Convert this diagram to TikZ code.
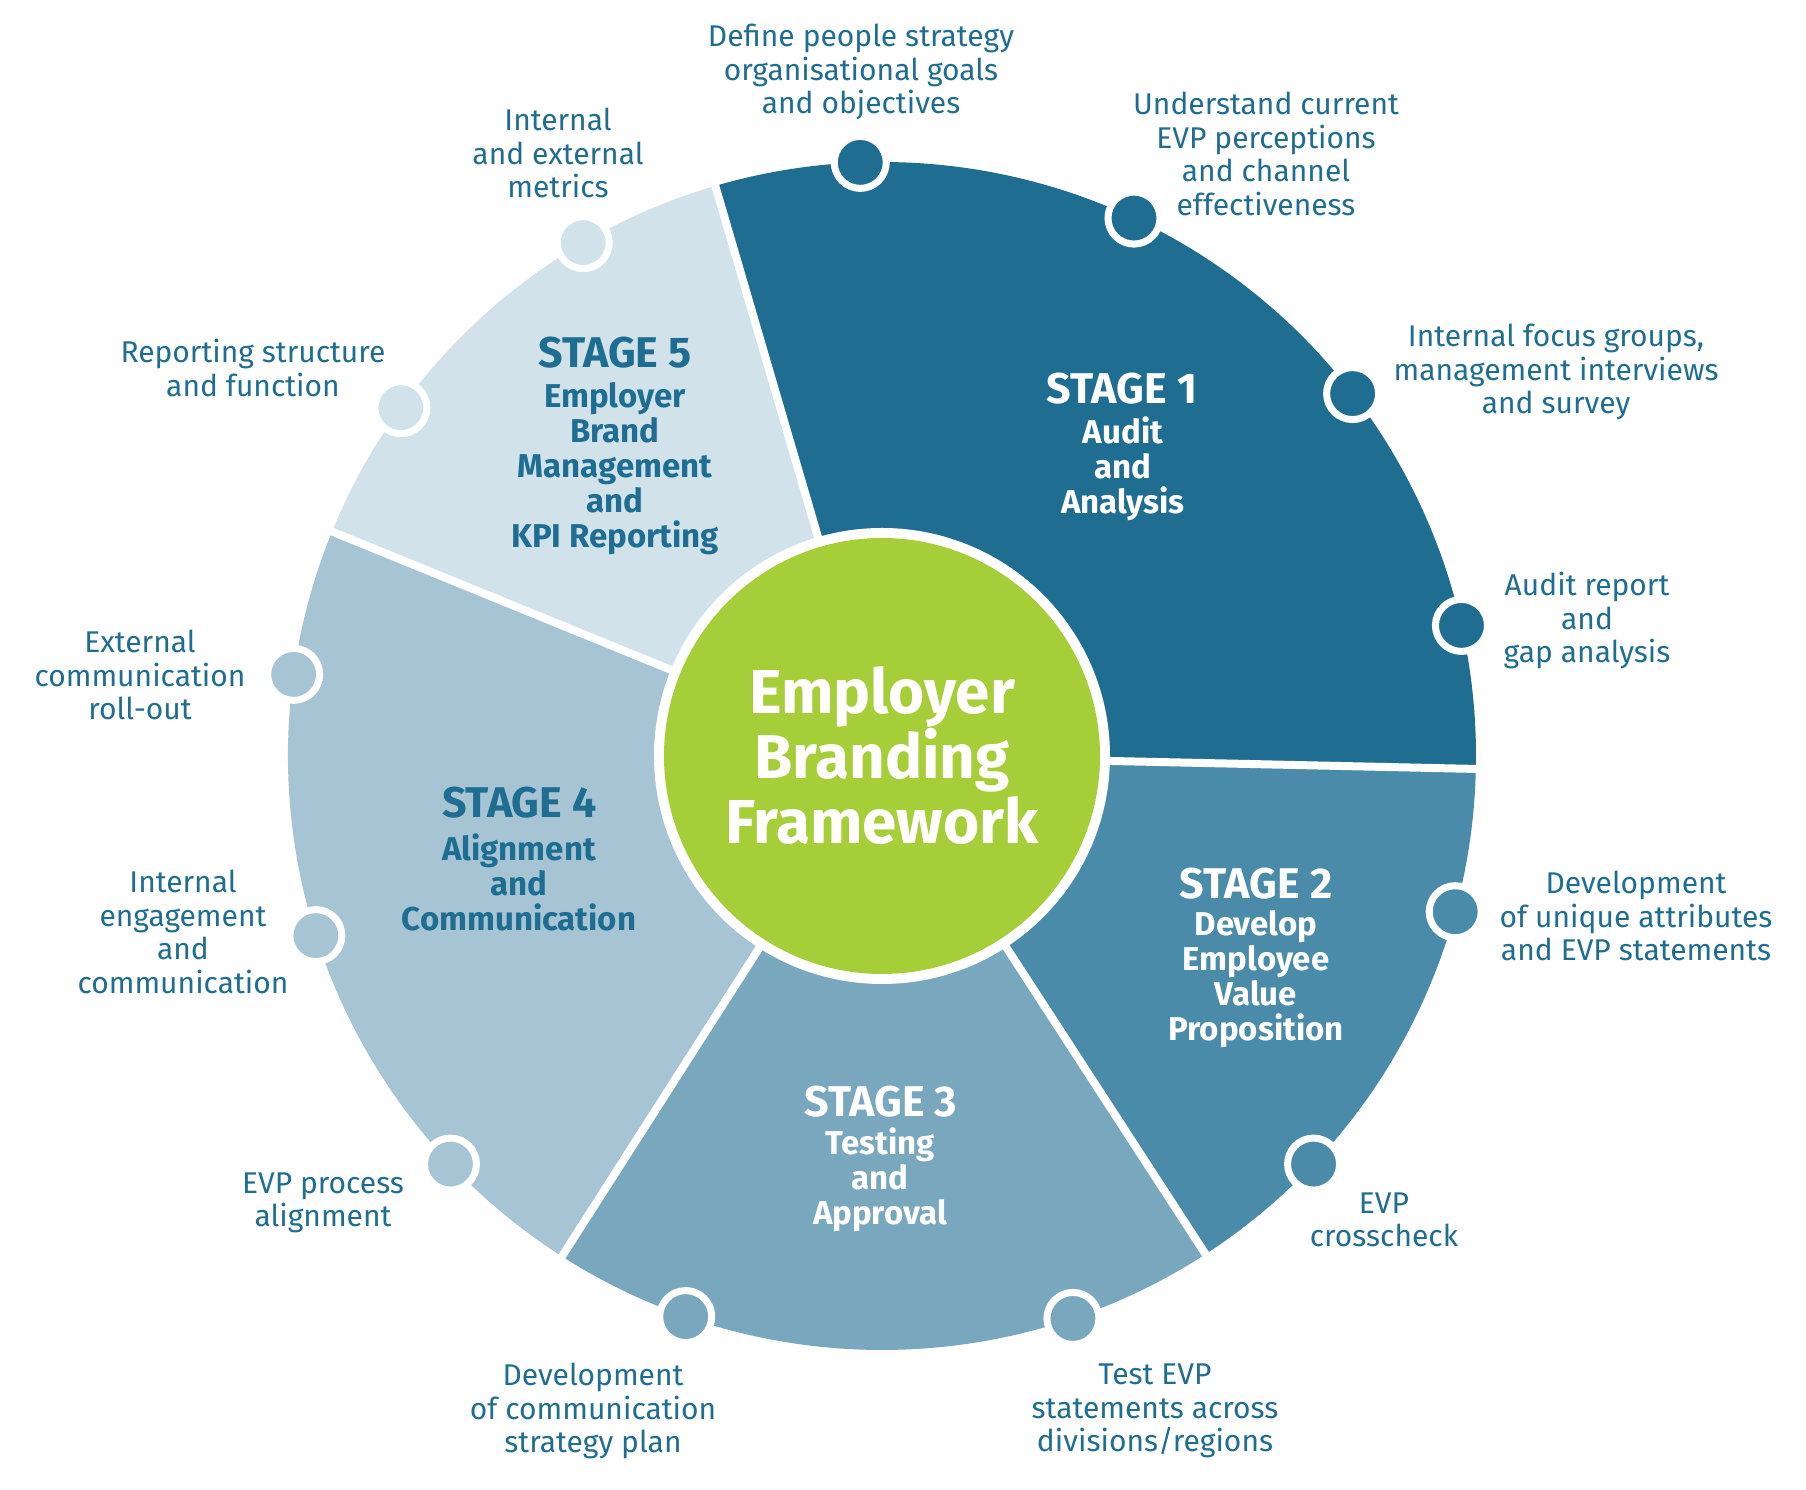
\documentclass[tikz,border=0pt]{standalone}
\usepackage{fontspec}
\setmainfont{Fira Sans}
\usetikzlibrary{calc}
\definecolor{sone}{HTML}{1F6E92}
\definecolor{stwo}{HTML}{4A8BAA}
\definecolor{sthree}{HTML}{78A7BE}
\definecolor{sfour}{HTML}{A6C4D4}
\definecolor{sfive}{HTML}{D1E2EA}
\definecolor{brandgreen}{HTML}{A6CE39}
\definecolor{txtblue}{HTML}{1F6E92}
\begin{document}
\begin{tikzpicture}[x=1pt,y=1pt,
  dot/.style={circle, minimum size=52pt, inner sep=0pt, draw=white, line width=7pt},
  lbl/.style={text=txtblue, align=center, font=\fontsize{30}{33.5}\selectfont, inner sep=0pt},
  stitle/.style={align=center, font=\bfseries\fontsize{43}{46}\selectfont, inner sep=0pt},
  sbody/.style={align=center, font=\bfseries\fontsize{33}{35}\selectfont, inner sep=0pt},
  sep/.style={white, line width=8pt},
  centertext/.style={align=center, text=white, font=\bfseries\fontsize{62}{65}\selectfont, inner sep=0pt}
]
\useasboundingbox (0,0) rectangle (1806,1490);
\fill[white] (0,0) rectangle (1806,1490);
\coordinate (C) at (882,734);
% sectors
\fill[sone]   (C) -- ++(-1.25:594pt) arc[start angle=-1.25, end angle=106.3, radius=594pt] -- cycle;
\fill[sfive]  (C) -- ++(106.3:594pt) arc[start angle=106.3, end angle=157.8, radius=594pt] -- cycle;
\fill[sfour]  (C) -- ++(157.8:594pt) arc[start angle=157.8, end angle=237.4, radius=594pt] -- cycle;
\fill[sthree] (C) -- ++(237.4:594pt) arc[start angle=237.4, end angle=303, radius=594pt] -- cycle;
\fill[stwo]   (C) -- ++(303:594pt) arc[start angle=303, end angle=358.75, radius=594pt] -- cycle;
% separators
\coordinate (e12) at ($(C)+(-1.25:610pt)$);
\coordinate (e23) at ($(C)+(-57:610pt)$);
\coordinate (e34) at ($(C)+(-122.6:610pt)$);
\coordinate (e45) at ($(C)+(157.8:610pt)$);
\coordinate (e51) at ($(C)+(106.3:610pt)$);
\draw[sep] (C) -- (e12);
\draw[sep] (C) -- (e23);
\draw[sep] (C) -- (e34);
\draw[sep] (C) -- (e45);
\draw[sep] (C) -- (e51);
% centre circle
\fill[white] (C) circle[radius=228pt];
\fill[brandgreen] (C) circle[radius=218pt];
\node[centertext] (ctr) at (C) {Employer\\Branding\\Framework};
% dots
\node[dot, fill=sone] (d1) at ($(C)+(92.1:594pt)$) {};
\node[dot, fill=sone] (d2) at ($(C)+(64.9:594pt)$) {};
\node[dot, fill=sone] (d3) at ($(C)+(37.6:594pt)$) {};
\node[dot, fill=sone] (d4) at ($(C)+(12.7:594pt)$) {};
\node[dot, fill=stwo] (d5) at ($(C)+(-15.2:594pt)$) {};
\node[dot, fill=stwo] (d6) at ($(C)+(-43.4:594pt)$) {};
\node[dot, fill=sthree] (d7) at ($(C)+(-71.25:594pt)$) {};
\node[dot, fill=sthree] (d8) at ($(C)+(-109.3:594pt)$) {};
\node[dot, fill=sfour] (d9) at ($(C)+(223.4:594pt)$) {};
\node[dot, fill=sfour] (d10) at ($(C)+(197.6:594pt)$) {};
\node[dot, fill=sfour] (d11) at ($(C)+(172.1:594pt)$) {};
\node[dot, fill=sfive] (d12) at ($(C)+(144.1:594pt)$) {};
\node[dot, fill=sfive] (d13) at ($(C)+(120.2:594pt)$) {};
% stage labels
\node[stitle, text=white] (t1) at (1122,1101) {STAGE 1};
\node[sbody, text=white] (b1) at (1123,1021) {Audit\\and\\Analysis};
\node[stitle, text=white] (t2) at (1256,606) {STAGE 2};
\node[sbody, text=white] (b2) at (1256,511) {Develop\\Employee\\Value\\Proposition};
\node[stitle, text=white] (t3) at (881,388) {STAGE 3};
\node[sbody, text=white] (b3) at (880,310) {Testing\\and\\Approval};
\node[stitle, text=txtblue] (t4) at (519.5,687) {STAGE 4};
\node[sbody, text=txtblue] (b4) at (519,608) {Alignment\\and\\Communication};
\node[stitle, text=txtblue] (t5) at (615,1137) {STAGE 5};
\node[sbody, text=txtblue] (b5) at (615,1021) {Employer\\Brand\\Management\\and\\KPI Reporting};
% outer labels
\node[lbl] (l1) at (861,1418) {Define people strategy\\organisational goals\\and objectives};
\node[lbl] (l2) at (1266,1336) {Understand current\\EVP perceptions\\and channel\\effectiveness};
\node[lbl] (l3) at (1556,1118) {Internal focus groups,\\management interviews\\and survey};
\node[lbl] (l4) at (1587,869) {Audit report\\and\\gap analysis};
\node[lbl] (l5) at (1636,574) {Development\\of unique attributes\\and EVP statements};
\node[lbl] (l6) at (1384,270) {EVP\\crosscheck};
\node[lbl] (l7) at (1155,79) {Test EVP\\statements across\\divisions/regions};
\node[lbl] (l8) at (593,79) {Development\\of communication\\strategy plan};
\node[lbl] (l9) at (323,287) {EVP process\\alignment};
\node[lbl] (l10) at (183,558) {Internal\\engagement\\and\\communication};
\node[lbl] (l11) at (140,815) {External\\communication\\roll-out};
\node[lbl] (l12) at (253,1122) {Reporting structure\\and function};
\node[lbl] (l13) at (558,1337) {Internal\\and external\\metrics};
\end{tikzpicture}
\end{document}
